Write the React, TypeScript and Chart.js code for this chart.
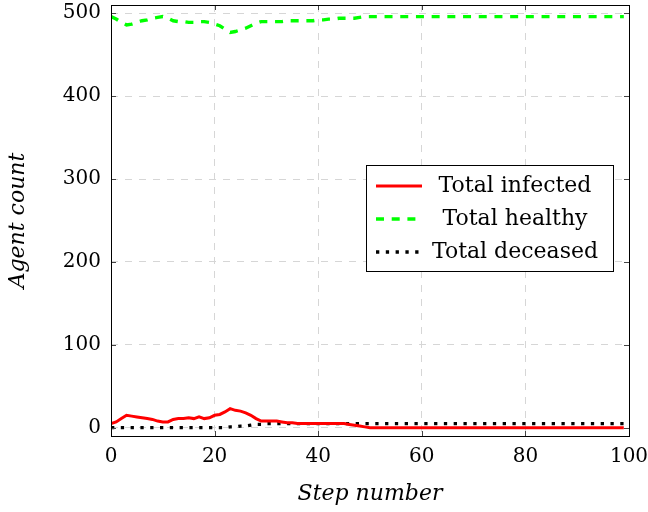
import React, { useEffect, useRef } from "react";
import { Chart, registerables } from "chart.js";

Chart.register(...registerables);

const steps = Array.from({ length: 100 }, (_, i) => i);

const infected = [
  5, 7, 11, 15, 14, 13, 12, 11, 10, 8,
  7, 7, 10, 11, 11, 12, 11, 13, 11, 12,
  15, 16, 19, 23, 21, 20, 18, 15, 11, 8,
  8, 8, 8, 7, 6, 6, 5, 5, 5, 5,
  5, 5, 5, 5, 5, 5, 4, 3, 2, 1,
  0, 0, 0, 0, 0, 0, 0, 0, 0, 0,
  0, 0, 0, 0, 0, 0, 0, 0, 0, 0,
  0, 0, 0, 0, 0, 0, 0, 0, 0, 0,
  0, 0, 0, 0, 0, 0, 0, 0, 0, 0,
  0, 0, 0, 0, 0, 0, 0, 0, 0, 0,
];

const healthy = [
  496, 493, 489, 486, 487, 489, 491, 492, 494, 495,
  496, 494, 491, 490, 490, 489, 489, 490, 490, 489,
  487, 485, 481, 477, 478, 480, 482, 485, 488, 490,
  490, 490, 490, 490, 491, 491, 491, 491, 491, 491,
  492, 492, 493, 493, 494, 494, 494, 494, 495, 496,
  496, 496, 496, 496, 496, 496, 496, 496, 496, 496,
  496, 496, 496, 496, 496, 496, 496, 496, 496, 496,
  496, 496, 496, 496, 496, 496, 496, 496, 496, 496,
  496, 496, 496, 496, 496, 496, 496, 496, 496, 496,
  496, 496, 496, 496, 496, 496, 496, 496, 496, 496,
];

const deceased = [
  0, 0, 0, 0, 0, 0, 0, 0, 0, 0,
  0, 0, 0, 0, 0, 0, 0, 0, 0, 0,
  0, 0, 0, 1, 1, 2, 2, 3, 4, 4,
  5, 5, 5, 5, 5, 5, 5, 5, 5, 5,
  5, 5, 5, 5, 5, 5, 5, 5, 5, 5,
  5, 5, 5, 5, 5, 5, 5, 5, 5, 5,
  5, 5, 5, 5, 5, 5, 5, 5, 5, 5,
  5, 5, 5, 5, 5, 5, 5, 5, 5, 5,
  5, 5, 5, 5, 5, 5, 5, 5, 5, 5,
  5, 5, 5, 5, 5, 5, 5, 5, 5, 5,
];

const seriesLabels = ["Total infected", "Total healthy", "Total deceased"];
const xTicks = [0, 20, 40, 60, 80, 100];
const yTicks = [0, 100, 200, 300, 400, 500];
const xTitle = "Step number";
const yTitle = "Agent count";

const FONT = "'DejaVu Serif', serif";

const framePlugin = {
  id: "frameTicks",
  afterDatasetsDraw(chart: any) {
    const { ctx, chartArea } = chart;
    const { left, right, top, bottom } = chartArea;
    const xs = chart.scales.x;
    const ys = chart.scales.y;
    ctx.save();
    ctx.setLineDash([]);
    ctx.strokeStyle = "#444";
    ctx.lineWidth = 1;
    ctx.beginPath();
    xTicks.forEach((v) => {
      const px = Math.round(xs.getPixelForValue(v)) + 0.5;
      ctx.moveTo(px, bottom);
      ctx.lineTo(px, bottom - 5);
      ctx.moveTo(px, top);
      ctx.lineTo(px, top + 5);
    });
    yTicks.forEach((v) => {
      const py = Math.round(ys.getPixelForValue(v)) + 0.5;
      ctx.moveTo(left, py);
      ctx.lineTo(left + 5, py);
      ctx.moveTo(right, py);
      ctx.lineTo(right - 5, py);
    });
    ctx.stroke();
    ctx.strokeStyle = "#000";
    ctx.lineWidth = 1;
    ctx.strokeRect(Math.round(left) + 0.5, Math.round(top) + 0.5, Math.round(right - left), Math.round(bottom - top));
    ctx.restore();
  },
};

const legendPlugin = {
  id: "boxLegend",
  afterDraw(chart: any) {
    const { ctx } = chart;
    const x0 = 366, y0 = 165, w = 247, h = 106;
    ctx.save();
    ctx.fillStyle = "#fff";
    ctx.fillRect(x0, y0, w, h);
    ctx.setLineDash([]);
    ctx.strokeStyle = "#000";
    ctx.lineWidth = 1;
    ctx.strokeRect(x0 + 0.5, y0 + 0.5, w, h);
    chart.data.datasets.forEach((ds: any, i: number) => {
      const y = 186 + i * 33;
      ctx.beginPath();
      ctx.strokeStyle = ds.borderColor;
      ctx.lineWidth = ds.borderWidth;
      ctx.setLineDash(ds.borderDash || []);
      ctx.moveTo(376, y);
      ctx.lineTo(422, y);
      ctx.stroke();
      ctx.setLineDash([]);
      ctx.fillStyle = "#000";
      ctx.font = `22px ${FONT}`;
      ctx.textAlign = "center";
      ctx.textBaseline = "middle";
      ctx.fillText(ds.label, 515, y);
    });
    ctx.restore();
  },
};

export default function App() {
  const ref = useRef<HTMLCanvasElement | null>(null);

  useEffect(() => {
    if (!ref.current) return;
    const toPts = (arr: number[]) => arr.map((v, i) => ({ x: steps[i], y: v }));
    const chart = new Chart(ref.current, {
      type: "line",
      data: {
        datasets: [
          {
            label: seriesLabels[0],
            data: toPts(infected),
            borderColor: "#ff0000",
            borderWidth: 3,
            borderDash: [],
            pointRadius: 0,
            tension: 0,
          },
          {
            label: seriesLabels[1],
            data: toPts(healthy),
            borderColor: "#00ff00",
            borderWidth: 3.4,
            borderDash: [8, 7.7],
            pointRadius: 0,
            tension: 0,
          },
          {
            label: seriesLabels[2],
            data: toPts(deceased),
            borderColor: "#000000",
            borderWidth: 3.3,
            borderDash: [3.3, 6.5],
            pointRadius: 0,
            tension: 0,
          },
        ],
      },
      options: {
        animation: false,
        responsive: false,
        maintainAspectRatio: false,
        layout: { padding: { left: 0, right: 19, top: 5, bottom: 0 } },
        plugins: { legend: { display: false }, tooltip: { enabled: false } },
        scales: {
          x: {
            type: "linear",
            min: 0,
            max: 100,
            afterBuildTicks: (s: any) => {
              s.ticks = xTicks.map((v) => ({ value: v }));
            },
            afterFit: (s: any) => {
              s.height = 76;
              s.paddingLeft = 0;
              s.paddingRight = 0;
            },
            grid: { color: "#d6d6d6", lineWidth: 1, drawTicks: false },
            border: { display: false, dash: [7, 7] },
            ticks: {
              padding: 9,
              color: "#000",
              maxRotation: 0,
              font: { family: FONT, size: 20 },
            },
            title: {
              display: true,
              text: xTitle,
              color: "#000",
              font: { family: FONT, size: 22, style: "italic" },
              padding: { top: 0, bottom: 5 },
            },
          },
          y: {
            type: "linear",
            min: -10,
            max: 510,
            afterBuildTicks: (s: any) => {
              s.ticks = yTicks.map((v) => ({ value: v }));
            },
            afterFit: (s: any) => {
              s.width = 111;
              s.paddingTop = 0;
              s.paddingBottom = 0;
            },
            grid: { color: "#d6d6d6", lineWidth: 1, drawTicks: false },
            border: { display: false, dash: [7, 7] },
            ticks: {
              padding: 10,
              color: "#000",
              font: { family: FONT, size: 20 },
            },
            title: {
              display: true,
              text: yTitle,
              color: "#000",
              font: { family: FONT, size: 22, style: "italic" },
              padding: { top: 5, bottom: 0 },
            },
          },
        },
      },
      plugins: [framePlugin, legendPlugin],
    });
    return () => chart.destroy();
  }, []);

  return (
    <div style={{ position: "fixed", left: 0, top: 0, width: 648, height: 512, background: "#fff" }}>
      <canvas ref={ref} width={648} height={512} style={{ display: "block" }} />
    </div>
  );
}
